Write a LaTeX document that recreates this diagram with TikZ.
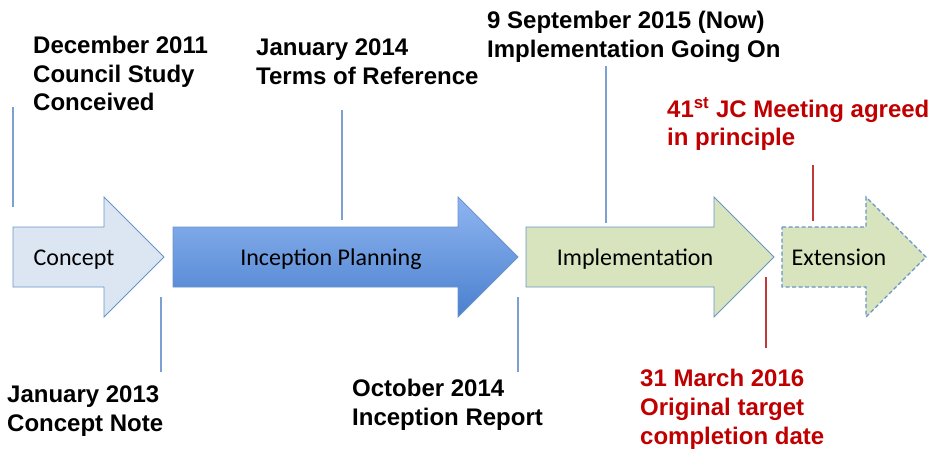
\documentclass[tikz,border=0pt]{standalone}
\usepackage{fontspec}
\setmainfont{Liberation Sans}
\newfontfamily\calibri{Carlito}
\definecolor{lineblue}{HTML}{7CA0D4}
\definecolor{edgeblue}{HTML}{6A93C8}
\definecolor{darkred}{HTML}{C00000}
\definecolor{lineRed}{HTML}{C0393B}
\definecolor{conceptfill}{HTML}{DCE6F2}
\definecolor{implfill}{HTML}{D7E4BD}
\definecolor{gradtop}{HTML}{8FB5F0}
\definecolor{gradbot}{HTML}{4A80CF}
\begin{document}
\begin{tikzpicture}[x=1pt,y=-1pt,
  datetext/.style={anchor=north west,inner sep=0pt,align=left,font={\fontsize{24}{28.7}\selectfont\bfseries}},
  redtext/.style={datetext,text=darkred},
  phase/.style={inner sep=0pt,anchor=base,font={\calibri\fontsize{24}{28}\selectfont}},
  tick/.style={draw=lineblue,line width=1.3pt},
  redtick/.style={draw=lineRed,line width=1.3pt},
  arrowshape/.style={draw=edgeblue,line width=0.9pt,line join=miter}
]
\useasboundingbox (0,0) rectangle (929,448);
% arrows
\draw[arrowshape,fill=conceptfill] (13,227) -- (104,227) -- (104,197) -- (164,257) -- (104,317) -- (104,287) -- (13,287) -- cycle;
\shade[top color=gradtop,bottom color=gradbot] (173,227) -- (458,227) -- (458,197) -- (518,257) -- (458,317) -- (458,287) -- (173,287) -- cycle;
\draw[arrowshape] (173,227) -- (458,227) -- (458,197) -- (518,257) -- (458,317) -- (458,287) -- (173,287) -- cycle;
\draw[arrowshape,fill=implfill] (526,227) -- (714,227) -- (714,197) -- (774,257) -- (714,317) -- (714,287) -- (526,287) -- cycle;
\draw[arrowshape,fill=implfill,line width=1.1pt,dash pattern=on 4pt off 2.5pt] (782,227) -- (866,227) -- (866,197) -- (926,257) -- (866,317) -- (866,287) -- (782,287) -- cycle;
% phase labels
\node[phase] (pconcept) at (74,265.5) {Concept};
\node[phase] (pinception) at (331,265.5) {Inception Planning};
\node[phase] (pimpl) at (635,265.5) {Implementation};
\node[phase] (pext) at (839,265.5) {Extension};
% ticks
\coordinate (t1a) at (13,107); \coordinate (t1b) at (13,207);
\coordinate (t2a) at (161,297); \coordinate (t2b) at (161,372);
\coordinate (t3a) at (342,110); \coordinate (t3b) at (342,220);
\coordinate (t4a) at (518,297); \coordinate (t4b) at (518,372);
\coordinate (t5a) at (606,66); \coordinate (t5b) at (606,223);
\coordinate (r1a) at (813,165); \coordinate (r1b) at (813,221);
\coordinate (r2a) at (766,277); \coordinate (r2b) at (766,348);
\draw[tick] (t1a) -- (t1b);
\draw[tick] (t2a) -- (t2b);
\draw[tick] (t3a) -- (t3b);
\draw[tick] (t4a) -- (t4b);
\draw[tick] (t5a) -- (t5b);
\draw[redtick] (r1a) -- (r1b);
\draw[redtick] (r2a) -- (r2b);
% date texts
\node[datetext] (dec2011) at (33,36) {December 2011\\Council Study\\Conceived};
\node[datetext] (jan2014) at (256,39) {January 2014\\Terms of Reference};
\node[datetext] (sep2015) at (487,11) {9 September 2015 (Now)\\Implementation Going On};
\node[redtext] (jc41) at (667,97) {41\textsuperscript{st} JC Meeting agreed\\in principle};
\node[datetext] (jan2013) at (7,386) {January 2013\\Concept Note};
\node[datetext] (oct2014) at (352,379) {October 2014\\Inception Report};
\node[redtext] (mar2016) at (640,369) {31 March 2016\\Original target\\completion date};
\end{tikzpicture}
\end{document}
